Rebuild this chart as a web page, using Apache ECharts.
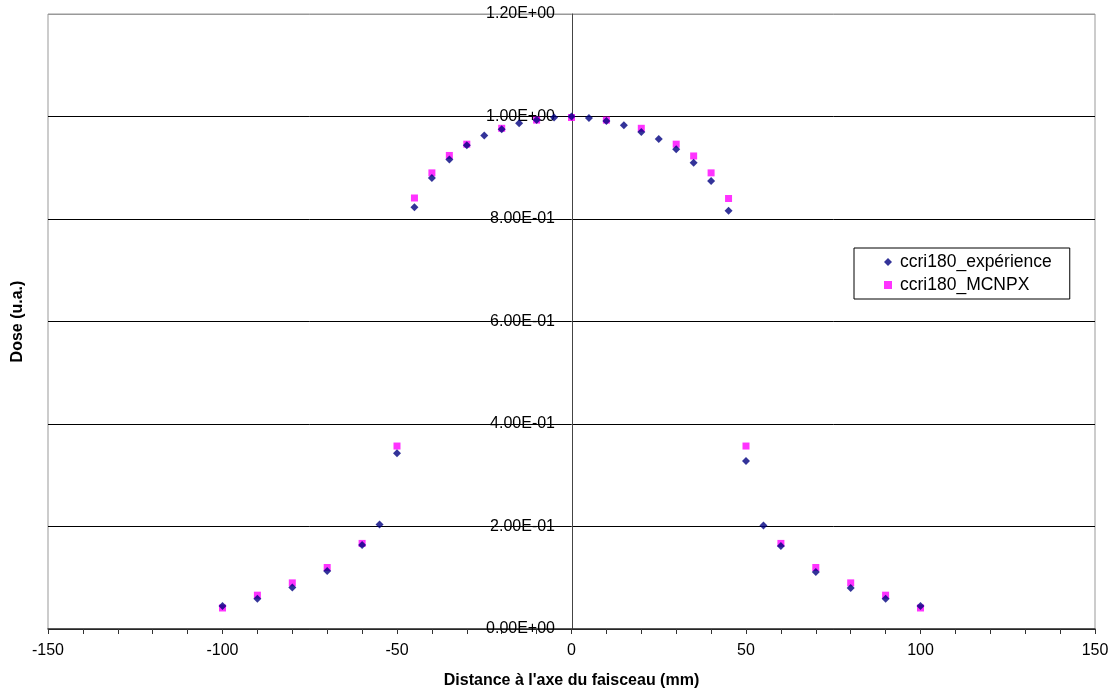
<!DOCTYPE html>
<html>
<head>
<meta charset="utf-8">
<script src="https://cdn.jsdelivr.net/npm/echarts@6/dist/echarts.min.js"></script>
<style>html,body{margin:0;padding:0;background:#fff;}#c{width:1115px;height:697px;}</style>
</head>
<body>
<div id="c"></div>
<script>
var expX = [-100,-90,-80,-70,-60,-55,-50,-45,-40,-35,-30,-25,-20,-15,-10,-5,0,5,10,15,20,25,30,35,40,45,50,55,60,70,80,90,100];
var expY = [0.045,0.059,0.081,0.113,0.164,0.204,0.343,0.823,0.880,0.916,0.944,0.963,0.975,0.987,0.993,0.998,1.0,0.997,0.991,0.983,0.970,0.956,0.936,0.910,0.874,0.816,0.328,0.202,0.162,0.111,0.080,0.059,0.045];
var mcX = [-100,-90,-80,-70,-60,-50,-45,-40,-35,-30,-20,-10,0,10,20,30,35,40,45,50,60,70,80,90,100];
var mcY = [0.041,0.066,0.090,0.120,0.167,0.357,0.841,0.890,0.924,0.946,0.977,0.993,0.998,0.993,0.977,0.946,0.923,0.890,0.840,0.357,0.167,0.120,0.090,0.066,0.041];
var seriesNames = ['ccri180_expérience','ccri180_MCNPX'];
var xName = "Distance à l'axe du faisceau (mm)";
var yName = 'Dose (u.a.)';

function pairs(xs, ys){ return xs.map(function(x,i){ return [x, ys[i]]; }); }
function sci(v){
  if (v === 0) return '0.00E+00';
  var e = Math.floor(Math.log10(Math.abs(v)) + 1e-9);
  var m = v / Math.pow(10, e);
  var es = (e < 0 ? '-' : '+') + (Math.abs(e) < 10 ? '0' : '') + Math.abs(e);
  return m.toFixed(2) + 'E' + es;
}

var chart = echarts.init(document.getElementById('c'));
var font = 'Liberation Sans, Arial, sans-serif';
chart.setOption({
  animation: false,
  backgroundColor: '#fff',
  textStyle: { fontFamily: font },
  grid: { left: 48, right: 20, top: 14, bottom: 68, containLabel: false, outerBoundsMode: 'none',
          show: true, borderColor: '#999', borderWidth: 1, backgroundColor: 'transparent' },
  legend: {
    orient: 'vertical', left: 854, top: 248,
    padding: [5, 18, 5, 30], itemGap: 5,
    itemWidth: 8, itemHeight: 8,
    borderColor: '#000', borderWidth: 1,
    textStyle: { fontSize: 17.5, color: '#000', fontFamily: font, padding: [0, 0, 0, 3] },
    data: [
      { name: seriesNames[0], icon: 'diamond' },
      { name: seriesNames[1], icon: 'rect' }
    ]
  },
  xAxis: {
    type: 'value', min: -150, max: 150, interval: 50,
    name: xName, nameLocation: 'middle', nameGap: 44,
    nameTextStyle: { fontSize: 16, fontWeight: 'bold', color: '#000', fontFamily: font },
    axisLine: { show: true, onZero: false, lineStyle: { color: '#333', width: 1.5 } },
    axisTick: { show: true, length: 5, lineStyle: { color: '#333' } },
    minorTick: { show: true, splitNumber: 5, length: 5, lineStyle: { color: '#333' } },
    axisLabel: { fontSize: 16, color: '#000', margin: 14, fontFamily: font },
    splitLine: { show: false }
  },
  yAxis: {
    type: 'value', min: 0, max: 1.2, interval: 0.2,
    position: 'left', offset: -524,
    name: yName, nameLocation: 'middle', nameGap: 546, nameRotate: 90,
    nameTextStyle: { fontSize: 16, fontWeight: 'bold', color: '#000', fontFamily: font },
    axisLine: { show: true, onZero: false, lineStyle: { color: '#444', width: 1 } },
    axisTick: { show: false },
    axisLabel: { fontSize: 16, color: '#000', margin: 17, fontFamily: font, formatter: sci },
    splitLine: { show: true, lineStyle: { color: ['#000','#000','#000','#000','#000','#000','#999'], width: 1 } }
  },
  series: [
    { name: seriesNames[0], type: 'scatter', symbol: 'diamond', symbolSize: [8, 8],
      itemStyle: { color: '#000080' }, data: pairs(expX, expY), z: 3 },
    { name: seriesNames[1], type: 'scatter', symbol: 'rect', symbolSize: 7,
      itemStyle: { color: '#FF00FF' }, data: pairs(mcX, mcY), z: 2 }
  ]
});
</script>
</body>
</html>
